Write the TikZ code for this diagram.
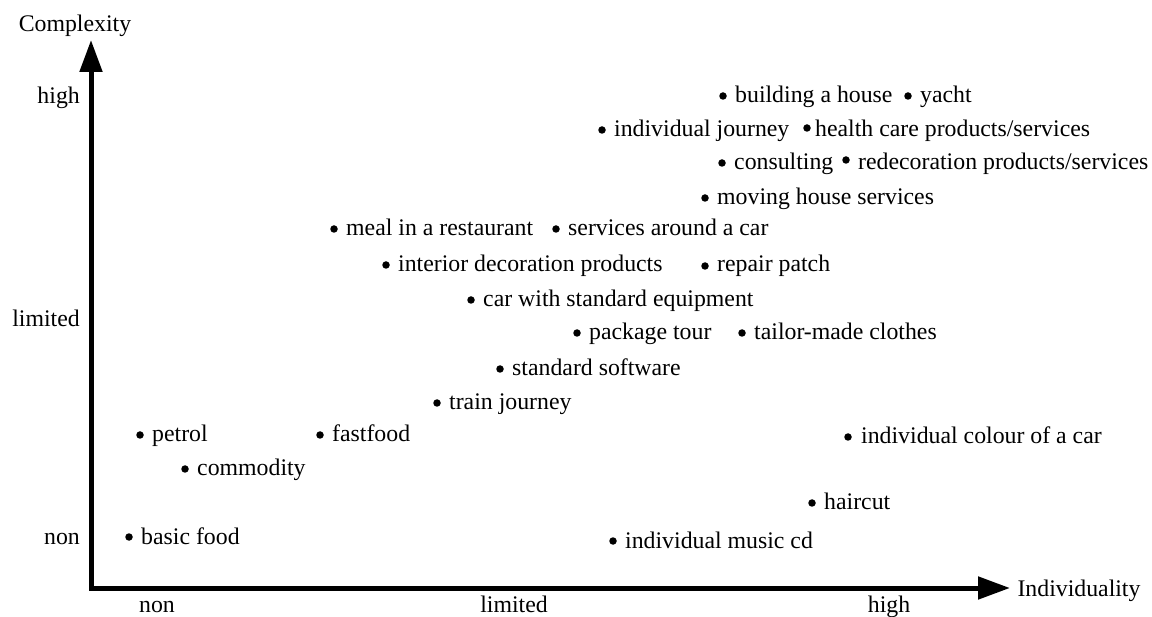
\documentclass[tikz,border=0pt]{standalone}
\usepackage{fontspec}
\setmainfont{Liberation Serif}
\usepackage{tikz}
\usetikzlibrary{arrows.meta}
\newcommand{\lblsize}{\fontsize{23.8}{28}\selectfont}
\newcommand{\dotsize}{7.5pt}
\tikzset{
  dot/.style={circle, fill, inner sep=0pt, minimum size=\dotsize},
  item/.style={anchor=base west, inner sep=0pt, font=\lblsize},
  axislbl/.style={anchor=base, inner sep=0pt, font=\lblsize},
  axis/.style={line width=5pt, line join=miter, {Triangle[length=32pt,width=22pt]}-{Triangle[length=32pt,width=22pt]}}
}

\begin{document}
\begin{tikzpicture}[x=1pt, y=-1pt]
\useasboundingbox (0,0) rectangle (1152,617);
% axes
\coordinate (ytip) at (91,40);
\coordinate (origin) at (91,588);
\coordinate (xtip) at (1010,588);
\draw[axis] (ytip) -- (origin) -- (xtip);
\node[axislbl] (complexity) at (75,32) {Complexity};
\node[axislbl] (individuality) at (1079,596) {Individuality};
\node[axislbl, anchor=base east] (yhigh) at (80,104) {high};
\node[axislbl, anchor=base east] (ylimited) at (80,327) {limited};
\node[axislbl, anchor=base east] (ynon) at (80,544) {non};
\node[axislbl] (xnon) at (157,612) {non};
\node[axislbl] (xlimited) at (514,612) {limited};
\node[axislbl] (xhigh) at (889,612) {high};
% products and services
\node[dot] (housedot) at (723,96) {};
\node[item] (house) at (735,103) {building a house};
\node[dot] (yachtdot) at (908,96) {};
\node[item] (yacht) at (920,103) {yacht};
\node[dot] (journeydot) at (602,130) {};
\node[item] (journey) at (614,137) {individual journey};
\node[dot] (healthdot) at (807,128) {};
\node[item] (health) at (815,137) {health care products/services};
\node[dot] (consultdot) at (722,163) {};
\node[item] (consult) at (734,170) {consulting};
\node[dot] (redecodot) at (846,160) {};
\node[item] (redeco) at (858,170) {redecoration products/services};
\node[dot] (movingdot) at (705,198) {};
\node[item] (moving) at (717,205) {moving house services};
\node[dot] (mealdot) at (334,229) {};
\node[item] (meal) at (346,236) {meal in a restaurant};
\node[dot] (carservdot) at (556,229) {};
\node[item] (carserv) at (568,236) {services around a car};
\node[dot] (interiordot) at (386,265) {};
\node[item] (interior) at (398,272) {interior decoration products};
\node[dot] (repairdot) at (705,266) {};
\node[item] (repair) at (717,272) {repair patch};
\node[dot] (stdcardot) at (471,300) {};
\node[item] (stdcar) at (483,307) {car with standard equipment};
\node[dot] (tourdot) at (577,333) {};
\node[item] (tour) at (589,340) {package tour};
\node[dot] (tailordot) at (742,333) {};
\node[item] (tailor) at (754,340) {tailor-made clothes};
\node[dot] (softwaredot) at (500,369) {};
\node[item] (software) at (512,376) {standard software};
\node[dot] (traindot) at (437,403) {};
\node[item] (train) at (449,410) {train journey};
\node[dot] (petroldot) at (140,435) {};
\node[item] (petrol) at (152,442) {petrol};
\node[dot] (fastfooddot) at (320,435) {};
\node[item] (fastfood) at (332,442) {fastfood};
\node[dot] (colourdot) at (848,437) {};
\node[item] (colour) at (861,444) {individual colour of a car};
\node[dot] (commoditydot) at (185,469) {};
\node[item] (commodity) at (197,476) {commodity};
\node[dot] (haircutdot) at (812,503) {};
\node[item] (haircut) at (824,510) {haircut};
\node[dot] (basicdot) at (129,537) {};
\node[item] (basic) at (141,544) {basic food};
\node[dot] (musicdot) at (613,541) {};
\node[item] (music) at (625,548) {individual music cd};
\end{tikzpicture}
\end{document}
